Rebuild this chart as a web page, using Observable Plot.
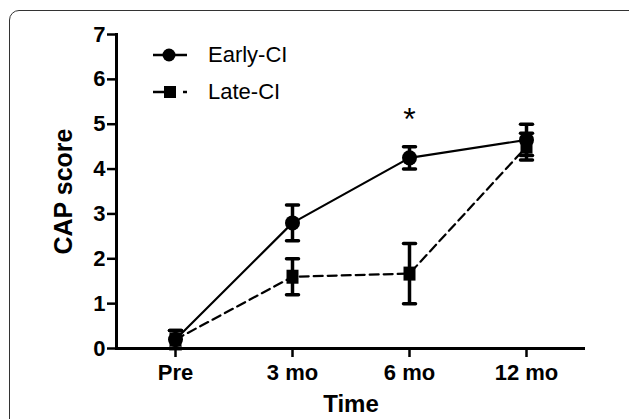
<!DOCTYPE html>
<html>
<head>
<meta charset="utf-8">
<script src="https://cdn.jsdelivr.net/npm/d3@7"></script>
<script src="https://cdn.jsdelivr.net/npm/@observablehq/plot@0.6"></script>
<style>
  html, body { margin: 0; padding: 0; background: #fff; }
  body { width: 629px; height: 419px; position: relative; overflow: hidden; font-family: "Liberation Sans", Arial, sans-serif; }
  #border { position: absolute; left: 9px; top: 10px; width: 700px; height: 500px; border: 1.5px solid #333; border-radius: 10px; box-sizing: border-box; }
  #chart { position: absolute; left: 0; top: 0; }
  #legend { position: absolute; left: 152px; top: 36px; font-size: 22px; color: #000; }
  #legend .row { display: flex; align-items: center; height: 37px; }
  #legend svg { margin-right: 20px; }
  svg text { font-family: "Liberation Sans", Arial, sans-serif; }
</style>
</head>
<body>
<div id="border"></div>
<div id="chart"></div>
<div id="legend"></div>
<script>
const times = ["Pre", "3 mo", "6 mo", "12 mo"];
const seriesNames = ["Early-CI", "Late-CI"];
const earlyMean = [0.2, 2.8, 4.25, 4.65];
const earlyErr  = [0.2, 0.4, 0.25, 0.35];
const lateMean  = [0.2, 1.6, 1.67, 4.5];
const lateErr   = [0.2, 0.4, 0.67, 0.3];
const yTicks = [0, 1, 2, 3, 4, 5, 6, 7];
const annotations = [{time: "6 mo", y: 5.3, label: "*"}];

const early = times.map((t, i) => ({time: t, y: earlyMean[i], lo: earlyMean[i] - earlyErr[i], hi: earlyMean[i] + earlyErr[i]}));
const late = times.map((t, i) => ({time: t, y: lateMean[i], lo: lateMean[i] - lateErr[i], hi: lateMean[i] + lateErr[i]}));

const capSymbol = {draw(ctx, size) { ctx.moveTo(-6, 0); ctx.lineTo(6, 0); }};
const squareSymbol = {draw(ctx, size) { ctx.rect(-6, -7, 12, 14); }};

const plot = Plot.plot({
  width: 629,
  height: 419,
  marginLeft: 116,
  marginRight: 44,
  marginTop: 34,
  marginBottom: 71,
  style: {fontFamily: "Liberation Sans, Arial, sans-serif", color: "black", background: "transparent"},
  x: {type: "point", domain: times, padding: 0.5},
  y: {domain: [0, 7]},
  marks: [
    Plot.axisY({ticks: yTicks, tickSize: 9, tickPadding: 2, fontSize: 22, fontWeight: "bold", strokeWidth: 2.5, label: "CAP score", labelAnchor: "center", labelOffset: 62, tickFormat: d => d}),
    Plot.axisX({tickSize: 9, tickPadding: 7, fontSize: 22, fontWeight: "bold", strokeWidth: 2.5, label: "Time", labelAnchor: "center", labelOffset: 63}),
    Plot.frame({anchor: "left", strokeWidth: 3}),
    Plot.ruleY([0], {strokeWidth: 3}),
    Plot.line(early, {x: "time", y: "y", stroke: "black", strokeWidth: 2.2}),
    Plot.line(late, {x: "time", y: "y", stroke: "black", strokeWidth: 2.2, strokeDasharray: "9,5"}),
    Plot.ruleX(early, {x: "time", y1: "lo", y2: "hi", stroke: "black", strokeWidth: 3.5}),
    Plot.ruleX(late, {x: "time", y1: "lo", y2: "hi", stroke: "black", strokeWidth: 3.5}),
    Plot.dot(early, {x: "time", y: "lo", symbol: capSymbol, stroke: "black", strokeWidth: 3.5, strokeLinecap: "round"}),
    Plot.dot(early, {x: "time", y: "hi", symbol: capSymbol, stroke: "black", strokeWidth: 3.5, strokeLinecap: "round"}),
    Plot.dot(late, {x: "time", y: "lo", symbol: capSymbol, stroke: "black", strokeWidth: 3.5, strokeLinecap: "round"}),
    Plot.dot(late, {x: "time", y: "hi", symbol: capSymbol, stroke: "black", strokeWidth: 3.5, strokeLinecap: "round"}),
    Plot.dot(early, {x: "time", y: "y", r: 7.5, fill: "black", stroke: "none"}),
    Plot.dot(late, {x: "time", y: "y", symbol: squareSymbol, fill: "black", stroke: "none"}),
    Plot.text(annotations, {x: "time", y: "y", text: "label", fontSize: 32, fill: "black", dy: 9})
  ]
});
plot.querySelectorAll('g[aria-label="y-axis label"] text, g[aria-label="x-axis label"] text').forEach(t => {
  t.setAttribute("font-size", t.closest('g[aria-label="y-axis label"]') ? "25" : "24");
  t.setAttribute("font-weight", "bold");
  t.textContent = t.textContent.replace(/[\u2190-\u2193]/g, "").trim();
});
document.getElementById("chart").append(plot);

// legend
const legend = document.getElementById("legend");
const icons = [
  `<svg width="36" height="16"><line x1="1" y1="8" x2="35" y2="8" stroke="black" stroke-width="2.5"/><circle cx="17" cy="8" r="6.5" fill="black"/></svg>`,
  `<svg width="36" height="16"><line x1="1" y1="8" x2="24" y2="8" stroke="black" stroke-width="2.5"/><line x1="31" y1="8" x2="35" y2="8" stroke="black" stroke-width="2.5"/><rect x="12" y="2" width="12" height="12" fill="black"/></svg>`
];
seriesNames.forEach((name, i) => {
  const row = document.createElement("div");
  row.className = "row";
  row.innerHTML = icons[i] + `<span>${name}</span>`;
  legend.append(row);
});
</script>
</body>
</html>
